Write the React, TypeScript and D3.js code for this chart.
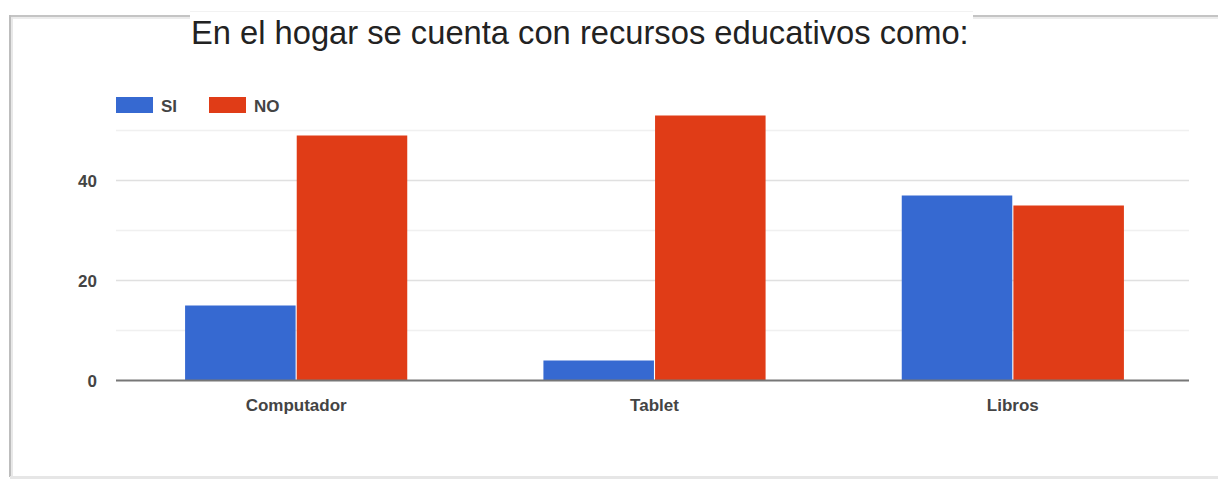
import React from "react";
import * as d3 from "d3";

const categories = ["Computador", "Tablet", "Libros"];
const seriesNames = ["SI", "NO"];
const siValues = [15, 4, 37];
const noValues = [49, 53, 35];
const yTickLabels = [0, 20, 40];
const gridValues = [0, 10, 20, 30, 40, 50];
const titleText = "En el hogar se cuenta con recursos educativos como:";

const colors: Record<string, string> = { SI: "#3669d1", NO: "#e03c17" };

export default function App() {
  const W = 1218;
  const H = 480;
  const left = 116;
  const right = 1189;
  const y = d3.scaleLinear().domain([0, 50]).range([380.5, 130.5]);
  const x0 = d3
    .scaleBand<string>()
    .domain(categories)
    .range([117, 1192])
    .paddingInner(0.38)
    .paddingOuter(0.19);
  const x1 = d3
    .scaleBand<string>()
    .domain(seriesNames)
    .range([0, x0.bandwidth()])
    .paddingInner(0.01);
  const values: Record<string, number[]> = { SI: siValues, NO: noValues };
  const font = "Arial, 'Liberation Sans', sans-serif";

  return (
    <svg
      width={W}
      height={H}
      style={{ position: "absolute", left: 0, top: 0, background: "#fff" }}
    >
      {/* frame */}
      <rect x={0} y={0} width={W} height={H} fill="#fff" />
      <line x1={10} y1={16} x2={W} y2={16} stroke="#c4c4c4" strokeWidth={2} />
      <line x1={12} y1={18} x2={W} y2={18} stroke="#ececec" strokeWidth={2} />
      <line x1={10} y1={15} x2={10} y2={477} stroke="#bdbdbd" strokeWidth={2} />
      <line x1={12} y1={17} x2={12} y2={477} stroke="#e8e8e8" strokeWidth={2} />
      <line x1={10} y1={477.5} x2={W} y2={477.5} stroke="#e6e6e6" strokeWidth={3} />
      {/* title box */}
      <rect x={190} y={11} width={783} height={40} fill="#fff" />
      <line x1={190} y1={11.5} x2={973} y2={11.5} stroke="#f2f2f2" strokeWidth={1} />
      <text x={191} y={44} fontFamily={font} fontSize={32.7} fill="#222">
        {titleText}
      </text>

      {/* legend */}
      {seriesNames.map((s, i) => {
        const lx = i === 0 ? 116 : 209;
        return (
          <g key={s}>
            <rect x={lx} y={97} width={37} height={16} fill={colors[s]} />
            <text
              x={lx + 45}
              y={112}
              fontFamily={font}
              fontSize={17}
              fontWeight="bold"
              fill="#444"
            >
              {s}
            </text>
          </g>
        );
      })}

      {/* gridlines */}
      {gridValues.map((v) =>
        v === 0 ? null : (
          <line
            key={v}
            x1={left}
            x2={right}
            y1={y(v)}
            y2={y(v)}
            stroke={v % 20 === 0 ? "#e0e0e0" : "#f0f0f0"}
            strokeWidth={1.5}
          />
        )
      )}

      {/* y tick labels */}
      {yTickLabels.map((v) => (
        <text
          key={v}
          x={97}
          y={y(v) + 6}
          textAnchor="end"
          fontFamily={font}
          fontSize={17}
          fontWeight="bold"
          fill="#444"
        >
          {v}
        </text>
      ))}

      {/* bars */}
      {categories.map((c, ci) => (
        <g key={c} transform={`translate(${x0(c)},0)`}>
          {seriesNames.map((s) => {
            const v = values[s][ci];
            return (
              <rect
                key={s}
                x={x1(s)}
                y={y(v)}
                width={x1.bandwidth()}
                height={y(0) - y(v)}
                fill={colors[s]}
              />
            );
          })}
        </g>
      ))}

      {/* baseline */}
      <line x1={left} x2={right} y1={y(0)} y2={y(0)} stroke="#777" strokeWidth={2} />

      {/* category labels */}
      {categories.map((c) => (
        <text
          key={c}
          x={(x0(c) ?? 0) + x0.bandwidth() / 2}
          y={411}
          textAnchor="middle"
          fontFamily={font}
          fontSize={17}
          fontWeight="bold"
          fill="#444"
        >
          {c}
        </text>
      ))}
    </svg>
  );
}
